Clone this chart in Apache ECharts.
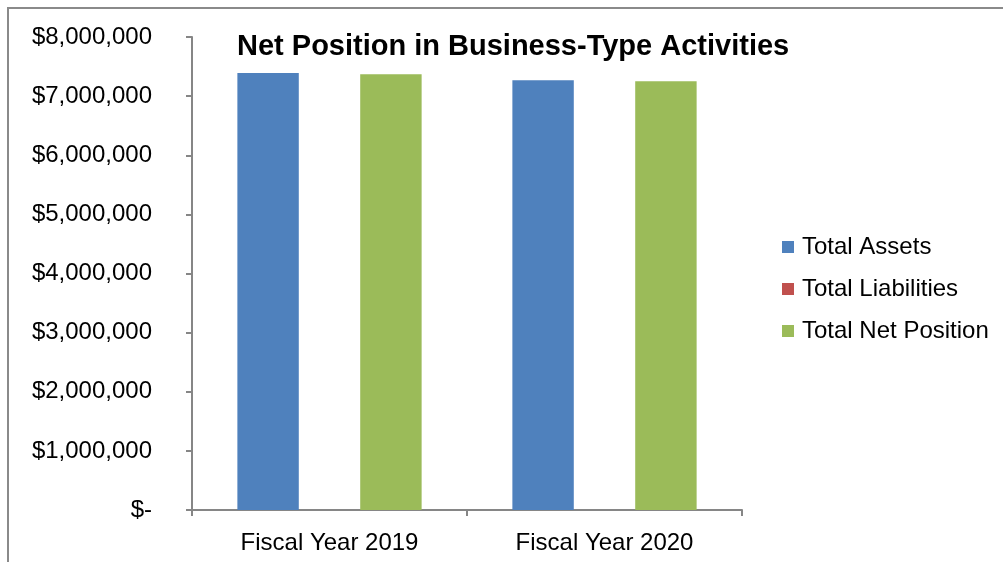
<!DOCTYPE html>
<html>
<head>
<meta charset="utf-8">
<script src="https://cdn.jsdelivr.net/npm/echarts@6/dist/echarts.min.js"></script>
<style>
  html, body { margin: 0; padding: 0; background: #fff; }
  #chart { width: 1003px; height: 562px; }
</style>
</head>
<body>
<div id="chart"></div>
<script>
// Fiscal years shown on the category axis
const categories = ['Fiscal Year 2019', 'Fiscal Year 2020'];

// Year-end balances, in dollars
const totalAssets = [7390000, 7270000];
const totalLiabilities = [0, 0];
const totalNetPosition = [7370000, 7250000];

// Value axis range and step
const yTicks = { min: 0, max: 8000000, interval: 1000000 };

const FONT = '"Liberation Sans", Arial, sans-serif';
const AXIS_GREY = '#868686';

function dollars(v) {
  if (v === 0) return '$-';
  return '$' + v.toLocaleString('en-US');
}

const chart = echarts.init(document.getElementById('chart'), null, { renderer: 'canvas' });

chart.setOption({
  backgroundColor: '#ffffff',
  animation: false,
  textStyle: { fontFamily: FONT },
  title: {
    text: 'Net Position in Business-Type Activities',
    left: 232,
    top: 27,
    textStyle: { fontFamily: FONT, fontSize: 29, fontWeight: 'bold', color: '#000' }
  },
  legend: {
    orient: 'vertical',
    left: 782,
    top: 235,
    padding: 0,
    itemWidth: 12,
    itemHeight: 12,
    itemGap: 18,
    icon: 'rect',
    textStyle: { fontFamily: FONT, fontSize: 24, color: '#000', lineHeight: 24, padding: [0, 0, 0, 3] },
    data: ['Total Assets', 'Total Liabilities', 'Total Net Position']
  },
  grid: { left: 192, right: 261, top: 37, bottom: 52, containLabel: false },
  xAxis: {
    type: 'category',
    data: categories,
    axisLine: { show: true, lineStyle: { color: AXIS_GREY, width: 2 } },
    axisTick: { show: true, length: 6, lineStyle: { color: AXIS_GREY, width: 2 } },
    axisLabel: { fontFamily: FONT, fontSize: 24, color: '#000', margin: 21 },
    splitLine: { show: false }
  },
  yAxis: {
    type: 'value',
    min: yTicks.min,
    max: yTicks.max,
    interval: yTicks.interval,
    axisLine: { show: true, lineStyle: { color: AXIS_GREY, width: 2 } },
    axisTick: { show: true, length: 6, lineStyle: { color: AXIS_GREY, width: 2 } },
    axisLabel: { fontFamily: FONT, fontSize: 24, color: '#000', margin: 40, formatter: dollars },
    splitLine: { show: false }
  },
  series: [
    {
      name: 'Total Assets',
      type: 'bar',
      data: totalAssets,
      barGap: '0%',
      barCategoryGap: '33%',
      itemStyle: { color: '#4F81BD' }
    },
    {
      name: 'Total Liabilities',
      type: 'bar',
      data: totalLiabilities,
      barGap: '0%',
      barCategoryGap: '33%',
      itemStyle: { color: '#C0504D' }
    },
    {
      name: 'Total Net Position',
      type: 'bar',
      data: totalNetPosition,
      barGap: '0%',
      barCategoryGap: '33%',
      itemStyle: { color: '#9BBB59' }
    }
  ],
  graphic: [
    {
      type: 'rect',
      silent: true,
      shape: { x: 8, y: 8, width: 1100, height: 700 },
      style: { fill: 'none', stroke: '#8a8a8a', lineWidth: 2 }
    }
  ]
});
</script>
</body>
</html>
